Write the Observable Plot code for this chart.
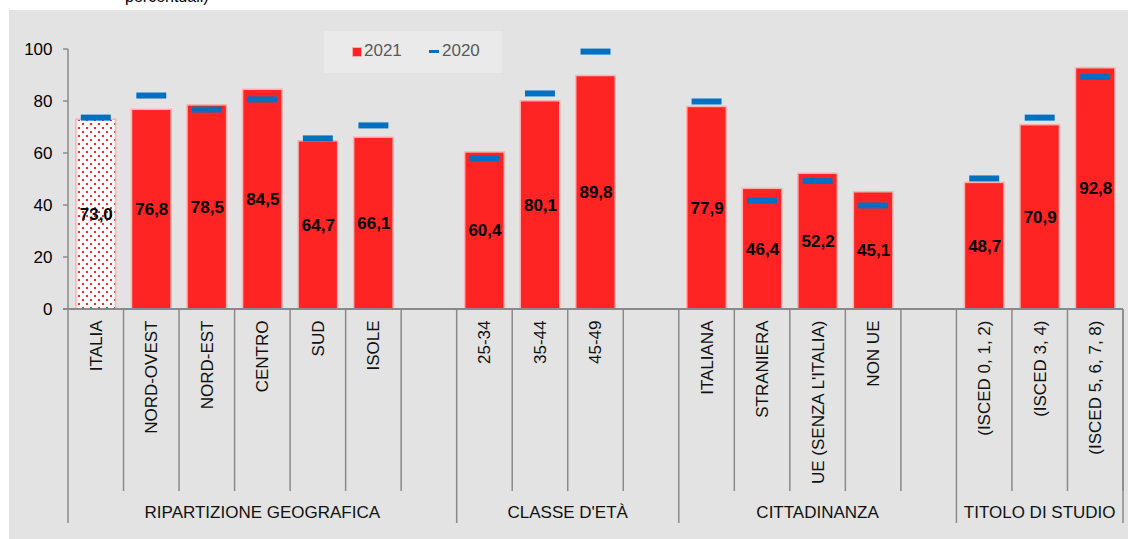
<!DOCTYPE html>
<html>
<head>
<meta charset="utf-8">
<script src="https://cdn.jsdelivr.net/npm/d3@7"></script>
<script src="https://cdn.jsdelivr.net/npm/@observablehq/plot@0.6"></script>
<style>
  body { margin: 0; background: #fff; font-family: "Liberation Sans", Arial, sans-serif; }
  #wrap { position: relative; width: 1128px; height: 539px; overflow: hidden; }
  #title { position: absolute; left: 0; top: 0; width: 1128px; height: 10px; overflow: hidden; }
  #title span { position: absolute; left: 125px; top: -11.5px; font-size: 16px; line-height: 16px; color: #000; white-space: nowrap; }
  #chart { position: absolute; left: 9px; top: 10px; }
  #legend { position: absolute; left: 324px; top: 31px; width: 178px; height: 42px; background: #eaeaea; }
  #legend .txt { position: absolute; top: 10px; font-size: 17px; line-height: 20px; color: #595959; }
</style>
</head>
<body>
<div id="wrap">
  <div id="title"><span>percentuali)</span></div>
  <div id="chart"></div>
  <div id="legend">
    <div style="position:absolute;left:28px;top:16px;width:8px;height:8px;background:#ff2222;border:1px solid #ffaaaa"></div>
    <div class="txt" style="left:40px">2021</div>
    <div style="position:absolute;left:105px;top:19px;width:10px;height:3px;background:#0070c0"></div>
    <div class="txt" style="left:118px">2020</div>
  </div>
</div>
<script>
// ---- data ----
const categories = ["ITALIA","NORD-OVEST","NORD-EST","CENTRO","SUD","ISOLE",
  "25-34","35-44","45-49",
  "ITALIANA","STRANIERA","UE (SENZA L'ITALIA)","NON UE",
  "(ISCED 0, 1, 2)","(ISCED 3, 4)","(ISCED 5, 6, 7, 8)"];
const values2021 = [73.0,76.8,78.5,84.5,64.7,66.1,60.4,80.1,89.8,77.9,46.4,52.2,45.1,48.7,70.9,92.8];
const values2020 = [73.8,82.3,76.9,80.8,65.8,70.8,58.1,83.1,99.2,80.0,41.9,49.4,40.0,50.4,73.8,89.5];
const groups = ["RIPARTIZIONE GEOGRAFICA","CLASSE D'ETÀ","CITTADINANZA","TITOLO DI STUDIO"];
const groupSizes = [6,3,4,3];
const yTicks = [0,20,40,60,80,100];
const series = ["2021","2020"];

// ---- build slots (categories + a gap after each group but the last) ----
const slots = [];
const groupSpans = [];
let k = 0;
groups.forEach((g, gi) => {
  const first = slots.length;
  for (let j = 0; j < groupSizes[gi]; j++) slots.push(categories[k++]);
  if (gi < groups.length - 1) slots.push("gap" + gi);
  groupSpans.push({name: g, first: slots[first], last: slots[slots.length - 1]});
});
const data = categories.map((c, i) => ({key: c, v21: values2021[i], v20: values2020[i]}));

const RED = "#ff2424", PINK = "#ffb0b0", BLUE = "#0070c0", AXIS = "#8a8a8a";
const FONT = "'Liberation Sans', Arial, sans-serif";

function lowerAxis(index, scales, values, dims) {
  const x = scales.x, y = scales.y;
  const y0 = y(0);
  const bw = (dims.width - dims.marginLeft - dims.marginRight) / slots.length;
  const g = d3.create("svg:g").attr("fill", "none");
  const L = dims.marginLeft;
  // y axis line and ticks
  g.append("line").attr("x1", L).attr("x2", L)
    .attr("y1", y(100)).attr("y2", y0).attr("stroke", AXIS).attr("stroke-width", 1.5);
  yTicks.forEach(t => {
    g.append("line").attr("x1", L - 5).attr("x2", L).attr("y1", y(t)).attr("y2", y(t))
      .attr("stroke", AXIS).attr("stroke-width", 1.5);
  });
  // x axis line
  g.append("line").attr("x1", L - 5).attr("x2", dims.width - dims.marginRight)
    .attr("y1", y0).attr("y2", y0).attr("stroke", AXIS).attr("stroke-width", 2);
  // slot dividers
  const edges = slots.map(s => x(s)).concat([x(slots[slots.length - 1]) + bw]);
  edges.forEach(e => {
    g.append("line").attr("x1", e).attr("x2", e).attr("y1", y0).attr("y2", y0 + 182)
      .attr("stroke", AXIS).attr("stroke-width", 1.5);
  });
  // group dividers and labels
  groupSpans.forEach((gs, i) => {
    const a = x(gs.first), b = x(gs.last) + bw;
    g.append("line").attr("x1", a).attr("x2", a).attr("y1", y0 + 182).attr("y2", y0 + 214)
      .attr("stroke", AXIS).attr("stroke-width", 1.5);
    if (i === groupSpans.length - 1)
      g.append("line").attr("x1", b).attr("x2", b).attr("y1", y0).attr("y2", y0 + 214)
        .attr("stroke", AXIS).attr("stroke-width", 1.5);
    g.append("text").attr("x", (a + b) / 2).attr("y", y0 + 203).attr("dy", "0.35em")
      .attr("text-anchor", "middle").attr("fill", "#111").attr("font-size", 17)
      .attr("font-family", FONT).text(gs.name);
  });
  return g.node();
}

const chart = Plot.plot({
  width: 1119,
  height: 529,
  marginLeft: 59,
  marginRight: 5,
  marginTop: 39,
  marginBottom: 230,
  style: {background: "#e3e3e3", fontFamily: FONT, fontSize: "17px", color: "#000", overflow: "visible"},
  x: {type: "band", domain: slots, paddingInner: 0, paddingOuter: 0, round: false, axis: null},
  y: {domain: [0, 100], ticks: yTicks, tickSize: 0, tickPadding: 16, label: null, axis: "left"},
  marks: [
    Plot.barY(data.filter(d => d.key === "ITALIA"), {x: "key", y: "v21", fill: "url(#dots)", stroke: PINK, strokeWidth: 1.5, insetLeft: 8, insetRight: 8}),
    Plot.barY(data.filter(d => d.key !== "ITALIA"), {x: "key", y: "v21", fill: RED, stroke: PINK, strokeWidth: 1.5, insetLeft: 8, insetRight: 8}),
    Plot.tickY(data, {x: "key", y: "v20", stroke: BLUE, strokeWidth: 6, insetLeft: 12.8, insetRight: 12.8}),
    Plot.text(data, {x: "key", y: d => d.v21 / 2, text: d => d.v21.toFixed(1).replace(".", ","),
      fontWeight: "bold", fontSize: 17, fill: "#000"}),
    Plot.text(data, {x: "key", y: () => 0, text: "key", rotate: -90, textAnchor: "end",
      dy: 11, fontSize: 17, fill: "#111"}),
    lowerAxis
  ]
});

// dotted pattern for the ITALIA bar
const svg = d3.select(chart);
const defs = svg.insert("defs", ":first-child");
const pat = defs.append("pattern").attr("id", "dots").attr("patternUnits", "userSpaceOnUse")
  .attr("width", 8).attr("height", 8);
pat.append("rect").attr("width", 8).attr("height", 8).attr("fill", "#fff");
pat.append("rect").attr("x", 1).attr("y", 1).attr("width", 2).attr("height", 2).attr("fill", RED);
pat.append("rect").attr("x", 5).attr("y", 5).attr("width", 2).attr("height", 2).attr("fill", RED);

document.getElementById("chart").appendChild(chart);
</script>
</body>
</html>
